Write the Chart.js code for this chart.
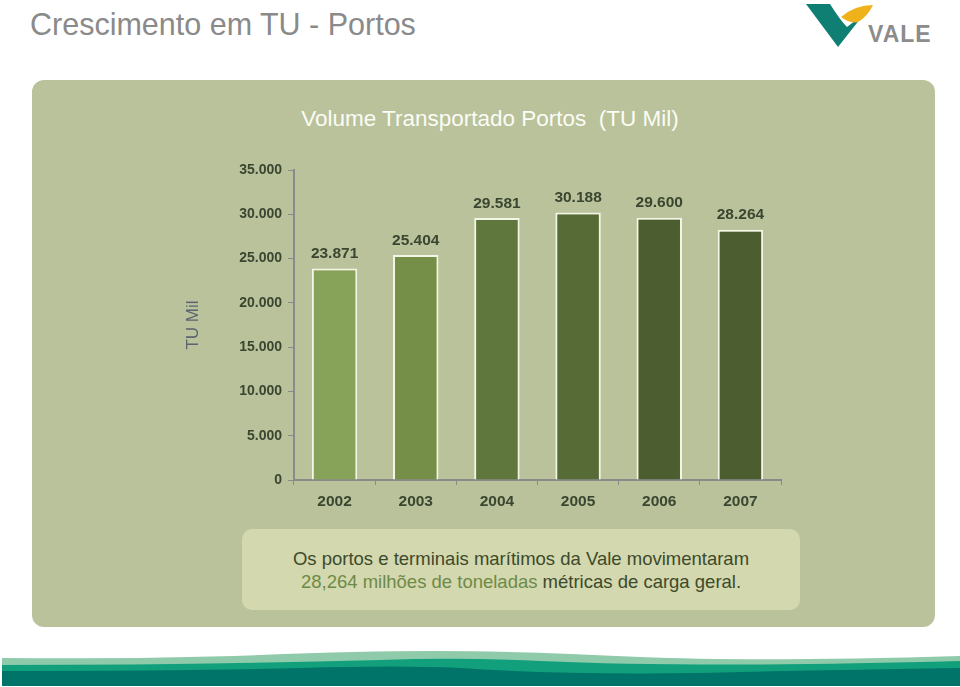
<!DOCTYPE html>
<html>
<head>
<meta charset="utf-8">
<script src="https://cdn.jsdelivr.net/npm/chart.js@4/dist/chart.umd.min.js"></script>
<style>
  html, body { margin: 0; padding: 0; background: #fff; }
  body { width: 960px; height: 687px; position: relative; overflow: hidden; font-family: "Liberation Sans", Arial, sans-serif; }
  .title { position: absolute; left: 30px; top: 7px; font-size: 30.5px; color: #8a8a8a; }
  .panel { position: absolute; left: 32px; top: 80px; width: 903px; height: 547px; background: #b9c29a; border-radius: 12px; }
  .ctitle { position: absolute; left: 0; width: 980px; top: 106px; text-align: center; font-size: 22.5px; color: #fbfcf6; }
  .box { position: absolute; left: 242px; top: 529px; width: 558px; height: 81px; background: #d3d8ae; border-radius: 10px;
         text-align: center; font-size: 18.5px; line-height: 23px; color: #3d4a2c; box-sizing: border-box; padding-top: 18px; }
  .box .hl { color: #6e8a48; }
  #wrap { position: absolute; left: 180px; top: 150px; width: 620px; height: 370px; }
  svg { position: absolute; }
</style>
</head>
<body>
<div class="title">Crescimento em TU - Portos</div>

<svg style="left:800px;top:0" width="160" height="60">
  <path d="M6 4 L30 4 Q40 20 47 27 Q56 20 64 14 L38 47 Z" fill="#0f7f74"/>
  <path d="M41 17 Q55 5 73 5 Q68 16 58 22 Q50 24 41 17 Z" fill="#f0b21b"/>
  <text x="68" y="42" font-family="'Liberation Sans', Arial, sans-serif" font-size="23" font-weight="bold" fill="#8c8c8c" letter-spacing="1">VALE</text>
</svg>

<div class="panel"></div>
<div class="ctitle">Volume Transportado Portos&nbsp; (TU Mil)</div>
<div id="wrap"><canvas id="chart" width="620" height="370"></canvas></div>
<div class="box">Os portos e terminais marítimos da Vale movimentaram<br><span class="hl">28,264 milhões de toneladas</span> métricas de carga geral.</div>

<svg style="left:0;top:646px" width="960" height="41">
  <path d="M2 12 Q150 13 260 9 Q360 5 435 5 Q520 5 640 11 Q760 16 960 10 L960 40 L2 40 Z" fill="#8fcaaa"/>
  <path d="M2 19 Q200 19 380 14 Q460 11 540 15 Q700 22 960 15 L960 40 L2 40 Z" fill="#12a07c"/>
  <path d="M2 25 Q200 25 300 22 Q400 19 460 22 Q560 29 700 27 Q820 24 960 22 L960 40 L2 40 Z" fill="#007468"/>
</svg>

<script>
const years = ["2002", "2003", "2004", "2005", "2006", "2007"];
const volumes = [23871, 25404, 29581, 30188, 29600, 28264];
const barColors = ["#87a259", "#758f48", "#5f763c", "#566b36", "#4c5d30", "#4c5d30"];
const yTicks = [0, 5000, 10000, 15000, 20000, 25000, 30000, 35000];

function fmt(v) {
  return String(v).replace(/\B(?=(\d{3})+(?!\d))/g, ".");
}

const tickFont = { family: "'Liberation Sans', Arial, sans-serif", size: 14, weight: "bold" };

const valueLabels = {
  id: "valueLabels",
  afterDatasetsDraw(chart) {
    const ctx = chart.ctx;
    const meta = chart.getDatasetMeta(0);
    ctx.save();
    ctx.font = "bold 15.5px 'Liberation Sans', Arial, sans-serif";
    ctx.fillStyle = "#3a4630";
    ctx.textAlign = "center";
    ctx.textBaseline = "bottom";
    meta.data.forEach((bar, i) => {
      ctx.fillText(fmt(volumes[i]), bar.x, bar.y - 7);
    });
    ctx.restore();
  }
};

new Chart(document.getElementById("chart").getContext("2d"), {
  type: "bar",
  data: {
    labels: years,
    datasets: [{
      data: volumes,
      backgroundColor: barColors,
      borderColor: "#f3f5e6",
      borderWidth: 2,
      categoryPercentage: 1,
      barPercentage: 0.56
    }]
  },
  options: {
    responsive: false,
    animation: false,
    layout: { padding: { top: 20, right: 19, left: 0, bottom: 0 } },
    plugins: { legend: { display: false }, tooltip: { enabled: false } },
    scales: {
      x: {
        grid: { display: true, drawOnChartArea: false, tickLength: 5, color: "#8a8a8a", offset: true },
        border: { color: "#8a8a8a", width: 2 },
        ticks: { color: "#3a4630", font: { ...tickFont, size: 15.5 }, padding: 7 },
        afterFit(s) { s.height = 40; }
      },
      y: {
        min: 0,
        max: 35000,
        afterBuildTicks(s) { s.ticks = yTicks.map(v => ({ value: v })); },
        grid: { display: true, drawOnChartArea: false, tickLength: 6, color: "#8a8a8a" },
        border: { color: "#8a8a8a", width: 2 },
        ticks: { color: "#3a4630", font: tickFont, padding: 6, callback: v => fmt(v) },
        title: { display: true, text: "TU Mil", color: "#5b6470", font: { family: "'Liberation Sans', Arial, sans-serif", size: 17 }, padding: 3 },
        afterFit(s) { s.width = 114; }
      }
    }
  },
  plugins: [valueLabels]
});
</script>
</body>
</html>
